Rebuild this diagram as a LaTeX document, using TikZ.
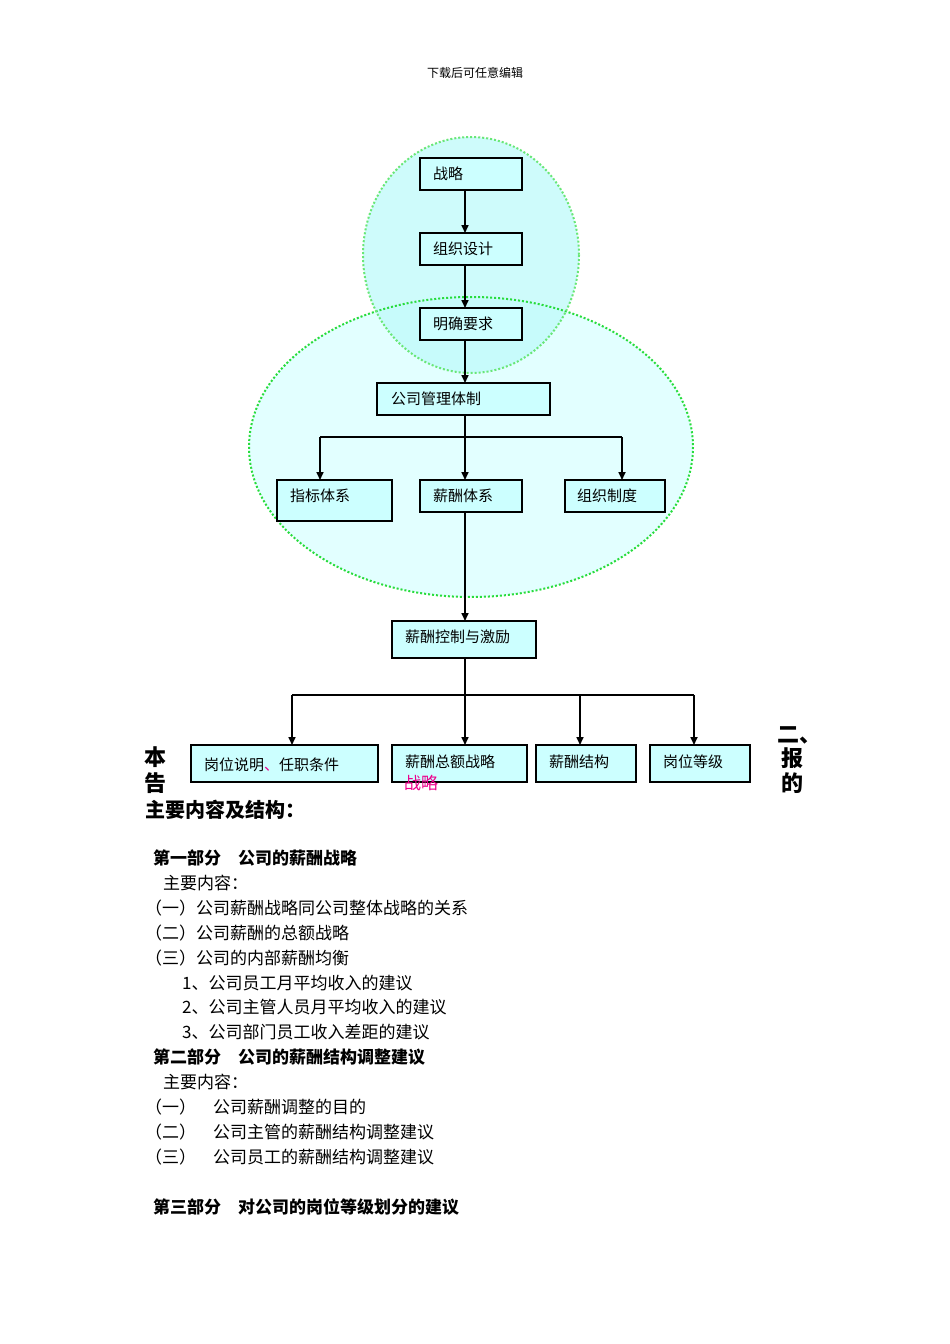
\documentclass[tikz,border=0pt]{standalone}
\usepackage{fontspec}
\setmainfont{Noto Sans CJK SC}
\usetikzlibrary{arrows.meta}
\definecolor{ellfill}{RGB}{226,255,255}
\definecolor{cirfill}{RGB}{190,250,250}
\definecolor{dotgreen}{RGB}{40,220,60}
\definecolor{boxfill}{RGB}{204,255,255}
\begin{document}
\begin{tikzpicture}[x=1pt,y=-1pt,
  bx/.style={draw=black,line width=2pt,fill=boxfill},
  bt/.style={font=\fontsize{15}{15}\selectfont,anchor=west,inner sep=0},
  arr/.style={line width=1.6pt,-{Triangle[length=8pt,width=7pt]}},
  ln/.style={line width=1.6pt},
  body/.style={font=\fontsize{17}{17}\selectfont,anchor=west,inner sep=0},
  bold/.style={font=\bfseries\fontsize{17}{17}\selectfont,anchor=west,inner sep=0}]
\useasboundingbox (0,0) rectangle (950,1344);
\fill[white] (0,0) rectangle (950,1344);
\node[font=\fontsize{12}{12}\selectfont] (hdr) at (475,73) {下载后可任意编辑};
% ellipses
\fill[ellfill] (471,447) ellipse [x radius=222,y radius=150];
\fill[cirfill,fill opacity=0.75] (471,255) ellipse [x radius=108,y radius=118];
\draw[dotgreen,line width=2pt,dotted] (471,447) ellipse [x radius=222,y radius=150];
\draw[dotgreen!70,line width=2pt,dotted] (471,255) ellipse [x radius=108,y radius=118];
% boxes
\path[bx] (420,158) rectangle (522,190) coordinate[pos=.5] (b1);
\path[bx] (420,233) rectangle (522,265);
\path[bx] (420,308) rectangle (522,340);
\path[bx] (377,383) rectangle (550,415);
\path[bx] (277,480) rectangle (392,521);
\path[bx] (420,480) rectangle (522,512);
\path[bx] (565,480) rectangle (665,512);
\path[bx] (392,621) rectangle (536,658);
\path[bx] (191,745) rectangle (378,782);
\path[bx] (392,745) rectangle (527,782);
\path[bx] (536,745) rectangle (636,782);
\path[bx] (650,745) rectangle (750,782);
\node[bt] (t1) at (433,174) {战略};
\node[bt] (t2) at (433,249) {组织设计};
\node[bt] (t3) at (433,324) {明确要求};
\node[bt] (t4) at (391,399) {公司管理体制};
\node[bt] (t5) at (290,496) {指标体系};
\node[bt] (t6) at (433,496) {薪酬体系};
\node[bt] (t7) at (577,496) {组织制度};
\node[bt] (t8) at (405,637) {薪酬控制与激励};
\node[bt] (t9) at (204,765) {岗位说明\textcolor{magenta}{、}任职条件};
\node[bt] (t10) at (405,762) {薪酬总额战略};
\node[bt] (t11) at (549,762) {薪酬结构};
\node[bt] (t12) at (663,762) {岗位等级};
\node[bt,text=magenta,font=\fontsize{17}{17}\selectfont] (t13) at (404,783) {战略};
% connectors
\coordinate (c1) at (465,190); \coordinate (c2) at (465,233);
\coordinate (c3) at (465,265); \coordinate (c4) at (465,308);
\coordinate (c5) at (465,340); \coordinate (c6) at (465,383);
\draw[arr] (c1) -- (c2); \draw[arr] (c3) -- (c4); \draw[arr] (c5) -- (c6);
\coordinate (h0) at (465,415); \coordinate (hl) at (320,437); \coordinate (hr) at (622,437);
\draw[ln] (h0) -- (465,437); \draw[ln] (hl) -- (hr);
\draw[arr] (hl) -- (320,480); \draw[arr] (465,437) -- (465,480); \draw[arr] (hr) -- (622,480);
\draw[arr] (465,512) -- (465,621);
\coordinate (bl) at (292,695); \coordinate (br) at (694,695);
\draw[ln] (465,658) -- (465,695); \draw[ln] (bl) -- (br);
\draw[arr] (bl) -- (292,745); \draw[arr] (465,695) -- (465,745);
\draw[arr] (580,695) -- (580,745); \draw[arr] (br) -- (694,745);
% side text
\node[font=\bfseries\fontsize{22}{22}\selectfont,inner sep=0] (s1) at (155,757) {本};
\node[font=\bfseries\fontsize{22}{22}\selectfont,inner sep=0] (s2) at (155,783) {告};
\node[font=\bfseries\fontsize{22}{22}\selectfont,inner sep=0] (s3) at (799,735) {二、};
\node[font=\bfseries\fontsize{22}{22}\selectfont,inner sep=0] (s4) at (792,758) {报};
\node[font=\bfseries\fontsize{22}{22}\selectfont,inner sep=0] (s5) at (792,783) {的};
\node[font=\bfseries\fontsize{20}{20}\selectfont,anchor=west,inner sep=0] (s6) at (145,810) {主要内容及结构：};
% body
\node[bold] (l1) at (153,858) {第一部分　公司的薪酬战略};
\node[body] (l2) at (163,883) {主要内容：};
\node[body] (l3) at (145,908) {（一）公司薪酬战略同公司整体战略的关系};
\node[body] (l4) at (145,933) {（二）公司薪酬的总额战略};
\node[body] (l5) at (145,958) {（三）公司的内部薪酬均衡};
\node[body] (l6) at (182,983) {1、公司员工月平均收入的建议};
\node[body] (l7) at (182,1007) {2、公司主管人员月平均收入的建议};
\node[body] (l8) at (182,1032) {3、公司部门员工收入差距的建议};
\node[bold] (l9) at (153,1057) {第二部分　公司的薪酬结构调整建议};
\node[body] (l10) at (163,1082) {主要内容：};
\node[body] (l11) at (145,1107) {（一）　公司薪酬调整的目的};
\node[body] (l12) at (145,1132) {（二）　公司主管的薪酬结构调整建议};
\node[body] (l13) at (145,1157) {（三）　公司员工的薪酬结构调整建议};
\node[bold] (l14) at (153,1207) {第三部分　对公司的岗位等级划分的建议};
\end{tikzpicture}
\end{document}
